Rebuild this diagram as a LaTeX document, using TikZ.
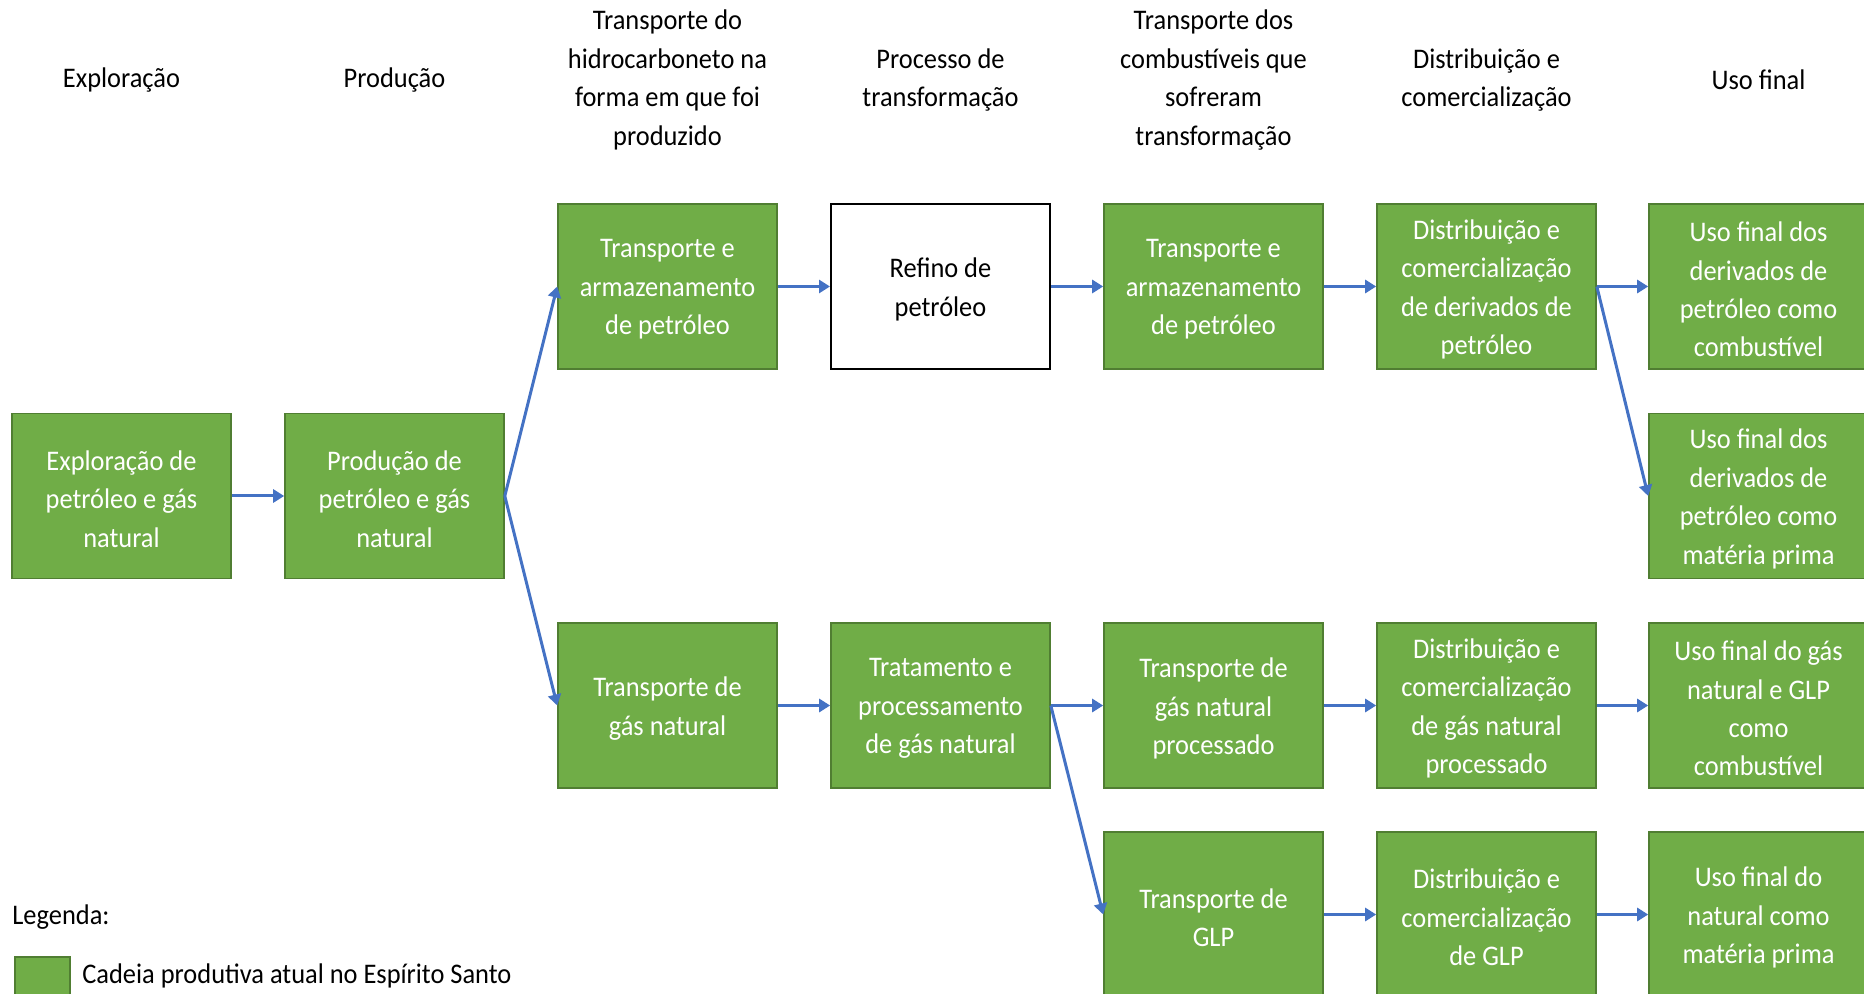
\documentclass[tikz,border=0pt]{standalone}
\usepackage{fontspec}
\setmainfont[FakeStretch=0.93]{Carlito}
\usetikzlibrary{arrows.meta}
\definecolor{gfill}{HTML}{70AD47}
\definecolor{gdraw}{HTML}{507E32}
\definecolor{ablue}{HTML}{4472C4}
\tikzset{
  base/.style={minimum width=109.5pt, minimum height=82.5pt, inner sep=0pt},
  gbox/.style={base, fill=gfill, draw=gdraw, line width=0.8pt},
  wbox/.style={base, fill=white, draw=black, line width=1pt},
  gtxt/.style={align=center, inner sep=0pt, yshift=-1.5pt, text=white,
    font=\fontsize{14.2pt}{19.2pt}\selectfont},
  wtxt/.style={gtxt, text=black},
  hdr/.style={align=center, inner sep=0pt, font=\fontsize{14.2pt}{19.2pt}\selectfont},
  arr/.style={draw=ablue, line width=1.5pt, -{Triangle[length=5.5pt,width=6.5pt]}},
}
\newcommand{\gbx}[3]{\node[gbox, label={[gtxt]center:{#3}}] (#1) at (#2) {};}
\begin{document}
\begin{tikzpicture}[x=0.5pt,y=-0.5pt]
\useasboundingbox (0,0) rectangle (1864,994);
\clip (0,0) rectangle (1864,994);
% headers
\node[hdr] (h1) at (121.5,80) {Exploração};
\node[hdr] (h2) at (394.5,80) {Produção};
\node[hdr] (h3) at (667.5,80) {Transporte do\\hidrocarboneto na\\forma em que foi\\produzido};
\node[hdr] (h4) at (940.5,80) {Processo de\\transformação};
\node[hdr] (h5) at (1213.5,80) {Transporte dos\\combustíveis que\\sofreram\\transformação};
\node[hdr] (h6) at (1486.5,80) {Distribuição e\\comercialização};
\node[hdr] (h7) at (1758.5,80) {Uso final};
% row A
\gbx{a3}{667.5,286.5}{Transporte e\\armazenamento\\de petróleo}
\node[wbox, label={[wtxt]center:{Refino de\\petróleo}}] (a4) at (940.5,286.5) {};
\gbx{a5}{1213.5,286.5}{Transporte e\\armazenamento\\de petróleo}
\gbx{a6}{1486.5,286.5}{Distribuição e\\comercialização\\de derivados de\\petróleo}
\gbx{a7}{1758.5,286.5}{Uso final dos\\derivados de\\petróleo como\\combustível}
% row B
\gbx{b1}{121.5,496}{Exploração de\\petróleo e gás\\natural}
\gbx{b2}{394.5,496}{Produção de\\petróleo e gás\\natural}
\gbx{b7}{1758.5,496}{Uso final dos\\derivados de\\petróleo como\\matéria prima}
% row C
\gbx{c3}{667.5,705.5}{Transporte de\\gás natural}
\gbx{c4}{940.5,705.5}{Tratamento e\\processamento\\de gás natural}
\gbx{c5}{1213.5,705.5}{Transporte de\\gás natural\\processado}
\gbx{c6}{1486.5,705.5}{Distribuição e\\comercialização\\de gás natural\\processado}
\gbx{c7}{1758.5,705.5}{Uso final do gás\\natural e GLP\\como\\combustível}
% row D
\gbx{d5}{1213.5,914.5}{Transporte de\\GLP}
\gbx{d6}{1486.5,914.5}{Distribuição e\\comercialização\\de GLP}
\gbx{d7}{1758.5,914.5}{Uso final do\\natural como\\matéria prima}
% connectors
\draw[arr] (b1) -- (b2);
\draw[arr] (b2.east) -- (a3.west);
\draw[arr] (b2.east) -- (c3.west);
\draw[arr] (a3) -- (a4);
\draw[arr] (a4) -- (a5);
\draw[arr] (a5) -- (a6);
\draw[arr] (a6) -- (a7);
\draw[arr] (a6.east) -- (b7.west);
\draw[arr] (c3) -- (c4);
\draw[arr] (c4) -- (c5);
\draw[arr] (c4.east) -- (d5.west);
\draw[arr] (c5) -- (c6);
\draw[arr] (c6) -- (c7);
\draw[arr] (d5) -- (d6);
\draw[arr] (d6) -- (d7);
% legend
\node[hdr, anchor=west] (leg) at (12,917) {Legenda:};
\node[fill=gfill, draw=gdraw, line width=0.8pt, minimum width=27.5pt, minimum height=27.5pt, inner sep=0pt, anchor=north west] (legsq) at (14,956) {};
\node[hdr, anchor=west] (legtxt) at (82,976) {Cadeia produtiva atual no Espírito Santo};
\end{tikzpicture}
\end{document}
